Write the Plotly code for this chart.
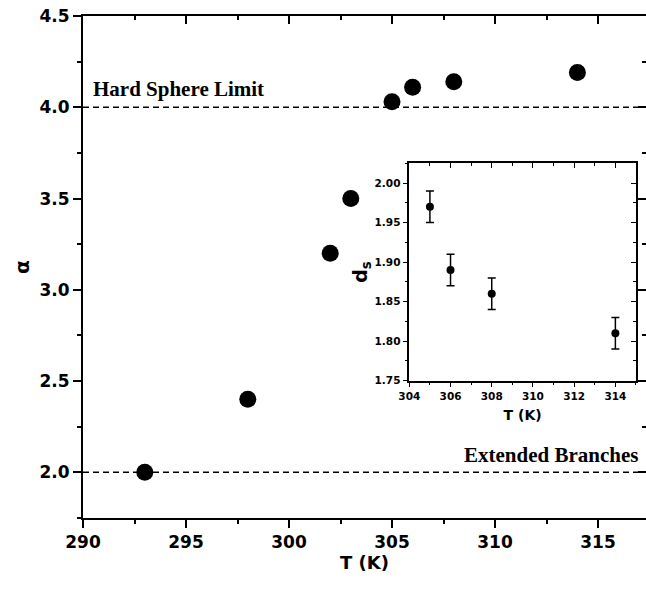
import plotly.graph_objects as go

# ---- data ----
T_main = [293, 298, 302, 303, 305, 306, 308, 314]
alpha = [2.0, 2.4, 3.2, 3.5, 4.03, 4.11, 4.14, 4.19]

T_inset = [305, 306, 308, 314]
ds = [1.97, 1.89, 1.86, 1.81]
ds_err = [0.02, 0.02, 0.02, 0.02]

ref_levels = [4.0, 2.0]
ref_labels = ["Hard Sphere Limit", "Extended Branches"]

main_xrange = [290, 317.33]
main_yrange = [1.75, 4.5]
inset_xrange = [304, 315]
inset_yrange = [1.75, 2.025]

SANS = "DejaVu Sans"
SERIF = "Liberation Serif"

fig = go.Figure()

fig.add_trace(go.Scatter(
    x=T_main, y=alpha, mode="markers",
    marker=dict(size=17, color="black"),
    xaxis="x", yaxis="y", showlegend=False))

fig.add_trace(go.Scatter(
    x=T_inset, y=ds, mode="markers",
    marker=dict(size=8, color="black"),
    error_y=dict(type="data", array=ds_err, visible=True,
                 color="black", thickness=1.5, width=4),
    xaxis="x2", yaxis="y2", showlegend=False))

# dummy traces to realise the mirrored (inward-tick) axes
fig.add_trace(go.Scatter(x=[None], y=[None], xaxis="x3", yaxis="y3",
                         showlegend=False, hoverinfo="skip"))
fig.add_trace(go.Scatter(x=[None], y=[None], xaxis="x4", yaxis="y4",
                         showlegend=False, hoverinfo="skip"))

tickfont = dict(family=SANS, size=17, color="black", weight="bold")
inset_tickfont = dict(family=SANS, size=10.5, color="black", weight="bold")

common = dict(showgrid=False, zeroline=False, color="black")

fig.update_layout(
    width=646, height=595,
    margin=dict(l=83, r=0, t=16, b=77),
    paper_bgcolor="white", plot_bgcolor="white",
    xaxis=dict(domain=[0, 1], anchor="y", range=main_xrange,
               tick0=290, dtick=5, ticks="outside", ticklen=8, tickwidth=2,
               minor=dict(dtick=2.5, ticks="outside", ticklen=4, tickwidth=1.5),
               showline=True, linewidth=2, linecolor="black",
               tickfont=tickfont,
               title=dict(text="<b>T (K)</b>", font=dict(family=SANS, size=18, color="black"),
                          standoff=4),
               **common),
    yaxis=dict(domain=[0, 1], anchor="x", range=main_yrange,
               tick0=2.0, dtick=0.5, tickformat=".1f",
               ticks="outside", ticklen=8, tickwidth=2,
               minor=dict(dtick=0.25, ticks="outside", ticklen=4, tickwidth=1.5),
               showline=True, linewidth=2, linecolor="black",
               tickfont=tickfont,
               title=dict(text="<b>α</b>", font=dict(family=SANS, size=20, color="black"),
                          standoff=4),
               **common),
    xaxis3=dict(overlaying="x", side="top", anchor="y", range=main_xrange,
                tick0=290, dtick=5, ticks="inside", ticklen=8, tickwidth=2,
                minor=dict(dtick=2.5, ticks="inside", ticklen=4, tickwidth=1.5),
                showticklabels=False, showline=True, linewidth=2, linecolor="black",
                **common),
    yaxis3=dict(overlaying="y", side="right", anchor="x", range=main_yrange,
                tick0=2.0, dtick=0.5, ticks="inside", ticklen=8, tickwidth=2,
                minor=dict(dtick=0.25, ticks="inside", ticklen=4, tickwidth=1.5),
                showticklabels=False, showline=False,
                **common),
    xaxis2=dict(domain=[0.5796, 0.9822], anchor="y2", range=inset_xrange,
                tick0=304, dtick=2, ticks="outside", ticklen=5, tickwidth=1.2,
                minor=dict(dtick=1, ticks="outside", ticklen=3, tickwidth=1),
                showline=True, linewidth=1.5, linecolor="black",
                tickfont=inset_tickfont,
                title=dict(text="<b>T (K)</b>", font=dict(family=SANS, size=14, color="black"),
                           standoff=9),
                **common),
    yaxis2=dict(domain=[0.2735, 0.7066], anchor="x2", range=inset_yrange,
                tick0=1.75, dtick=0.05, tickformat=".2f",
                ticks="outside", ticklen=5, tickwidth=1.2,
                minor=dict(dtick=0.025, ticks="outside", ticklen=3, tickwidth=1),
                showline=True, linewidth=1.5, linecolor="black",
                tickfont=inset_tickfont,
                title=dict(text="<b>d<sub>s</sub></b>", font=dict(family=SANS, size=19, color="black"),
                           standoff=2),
                **common),
    xaxis4=dict(overlaying="x2", side="top", anchor="y2", range=inset_xrange,
                tick0=304, dtick=2, ticks="inside", ticklen=5, tickwidth=1.2,
                minor=dict(dtick=1, ticks="inside", ticklen=3, tickwidth=1),
                showticklabels=False, showline=True, linewidth=1.5, linecolor="black",
                **common),
    yaxis4=dict(overlaying="y2", side="right", anchor="x2", range=inset_yrange,
                tick0=1.75, dtick=0.05, ticks="inside", ticklen=5, tickwidth=1.2,
                minor=dict(dtick=0.025, ticks="inside", ticklen=3, tickwidth=1),
                showticklabels=False, showline=True, linewidth=1.5, linecolor="black",
                **common),
)

# reference (dashed) levels
for lvl in ref_levels:
    fig.add_shape(type="line", xref="x domain", yref="y", x0=0, x1=1, y0=lvl, y1=lvl,
                  line=dict(color="black", width=1.5, dash="6px,4px"), layer="below")

fig.add_annotation(x=main_xrange[0], y=ref_levels[0], xref="x", yref="y",
                   text="<b>" + ref_labels[0] + "</b>", showarrow=False,
                   xanchor="left", yanchor="bottom", xshift=8, yshift=4,
                   font=dict(family=SERIF, size=21, color="black"))
fig.add_annotation(x=main_xrange[1], y=ref_levels[1], xref="x", yref="y",
                   text="<b>" + ref_labels[1] + "</b>", showarrow=False,
                   xanchor="right", yanchor="bottom", xshift=-6, yshift=3,
                   font=dict(family=SERIF, size=21, color="black"))

fig.write_html("out.html", config={"displayModeBar": False},
               post_script="document.body.style.margin='0';")
